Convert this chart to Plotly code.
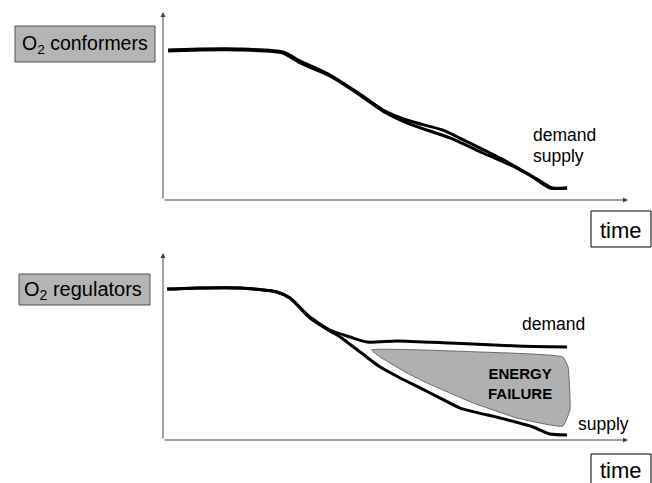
import plotly.graph_objects as go

W, H = 652, 483

# ---- data (time in arbitrary units 0-100, O2 level in arbitrary units 0-100)
conf_demand_time = [1.1, 8.0, 16.6, 25.8, 29.5, 35.9, 41.7, 47.3, 53.1, 60.2, 66.0, 72.5, 78.9, 83.2, 86.9]
conf_demand = [79.8, 80.3, 80.3, 78.7, 73.9, 66.5, 57.4, 47.9, 42.0, 37.2, 30.3, 22.3, 13.3, 6.4, 6.4]
conf_supply_time = [1.1, 8.0, 16.6, 25.8, 29.5, 35.9, 41.7, 47.3, 53.1, 61.7, 68.8, 76.1, 81.1, 83.7, 86.9]
conf_supply = [79.3, 79.8, 79.8, 78.2, 72.9, 66.0, 56.9, 47.3, 40.4, 33.0, 25.0, 17.0, 10.1, 6.4, 6.4]

reg_demand_time = [0.9, 7.7, 16.6, 24.5, 27.3, 31.6, 35.9, 40.2, 43.9, 50.3, 61.7, 76.1, 86.9]
reg_demand = [80.3, 80.9, 80.9, 78.7, 75.5, 65.4, 58.5, 54.8, 52.1, 52.7, 51.6, 50.0, 49.5]
reg_supply_time = [0.9, 8.0, 16.6, 24.5, 27.3, 31.6, 35.9, 38.1, 42.4, 46.7, 51.0, 55.3, 59.6, 63.9, 72.5, 79.6, 83.2, 86.9]
reg_supply = [80.3, 80.9, 80.9, 78.7, 75.5, 64.9, 58.0, 54.8, 46.8, 38.8, 33.0, 27.7, 22.3, 17.0, 11.7, 6.9, 3.2, 2.7]

failure_time = [44.9, 68.2, 86.0, 87.1, 87.5, 86.0, 83.2, 76.1, 66.7, 61.7, 56.8, 52.5, 48.8, 46.7, 44.9]
failure_level = [47.9, 46.8, 44.1, 38.8, 16.0, 7.4, 8.0, 11.7, 19.7, 25.0, 30.3, 35.6, 41.0, 44.1, 47.9]

FONT = "Arial, Liberation Sans, sans-serif"
LINE = dict(color="black", width=3, shape="spline", smoothing=0.6)

fig = go.Figure()
fig.add_trace(go.Scatter(x=conf_demand_time, y=conf_demand, mode="lines", line=LINE, xaxis="x", yaxis="y", hoverinfo="skip"))
fig.add_trace(go.Scatter(x=conf_supply_time, y=conf_supply, mode="lines", line=LINE, xaxis="x", yaxis="y", hoverinfo="skip"))
fig.add_trace(go.Scatter(x=failure_time, y=failure_level, mode="lines", fill="toself",
                         fillcolor="#b0b0b0", line=dict(color="#6a6a6a", width=1, shape="spline", smoothing=0.4),
                         xaxis="x2", yaxis="y2", hoverinfo="skip"))
fig.add_trace(go.Scatter(x=reg_demand_time, y=reg_demand, mode="lines", line=LINE, xaxis="x2", yaxis="y2", hoverinfo="skip"))
fig.add_trace(go.Scatter(x=reg_supply_time, y=reg_supply, mode="lines", line=LINE, xaxis="x2", yaxis="y2", hoverinfo="skip"))

xdom = [163 / W, 628 / W]
ax_common = dict(range=[0, 100], showgrid=False, zeroline=False, showticklabels=False, ticks="", showline=False, fixedrange=True)
fig.update_layout(
    width=W, height=H, margin=dict(l=0, r=0, t=0, b=0),
    paper_bgcolor="white", plot_bgcolor="rgba(0,0,0,0)", showlegend=False,
    xaxis=dict(domain=xdom, **ax_common),
    yaxis=dict(domain=[1 - 200 / H, 1 - 12 / H], **ax_common),
    xaxis2=dict(domain=xdom, anchor="y2", **ax_common),
    yaxis2=dict(domain=[1 - 440 / H, 1 - 252 / H], anchor="x2", **ax_common),
    font=dict(family=FONT, color="black"),
)

def px(x):
    return x / W

def py(y):
    return 1 - y / H

anns = []
shapes = []
# axes arrows
for y0, ytop in [(200, 12), (440, 253)]:
    anns.append(dict(xref="paper", yref="paper", x=px(163), y=py(ytop), ax=0, ay=(y0 - ytop), axref="pixel", ayref="pixel",
                     showarrow=True, arrowhead=2, arrowsize=1, arrowwidth=1, arrowcolor="#444", text=""))
    anns.append(dict(xref="paper", yref="paper", x=px(628), y=py(y0), ax=-(628 - 163), ay=0,
                     showarrow=True, arrowhead=2, arrowsize=1, arrowwidth=1, arrowcolor="#444", text=""))

# label boxes
shapes.append(dict(type="rect", xref="paper", yref="paper", x0=px(15), x1=px(155), y0=py(62), y1=py(26),
                   fillcolor="#b4b4b4", line=dict(color="#555", width=1)))
anns.append(dict(xref="paper", yref="paper", x=px(85), y=py(44), text="O<sub>2</sub> conformers", showarrow=False,
                 font=dict(size=19.5, family=FONT), xanchor="center", yanchor="middle"))
shapes.append(dict(type="rect", xref="paper", yref="paper", x0=px(19), x1=px(150), y0=py(305), y1=py(274),
                   fillcolor="#b4b4b4", line=dict(color="#555", width=1)))
anns.append(dict(xref="paper", yref="paper", x=px(83), y=py(290), text="O<sub>2</sub> regulators", showarrow=False,
                 font=dict(size=20, family=FONT), xanchor="center", yanchor="middle"))

# time boxes
for ytop, ybot in [(211, 247), (454, 492)]:
    shapes.append(dict(type="rect", xref="paper", yref="paper", x0=px(591), x1=px(651), y0=py(ybot), y1=py(ytop),
                       fillcolor="white", line=dict(color="black", width=1)))
anns.append(dict(xref="paper", yref="paper", x=px(621), y=py(230), text="time", showarrow=False,
                 font=dict(size=22, family=FONT), xanchor="center", yanchor="middle"))
anns.append(dict(xref="paper", yref="paper", x=px(621), y=py(470), text="time", showarrow=False,
                 font=dict(size=22, family=FONT), xanchor="center", yanchor="middle"))

# series labels
anns.append(dict(xref="paper", yref="paper", x=px(531), y=py(135), text="demand", showarrow=False,
                 font=dict(size=17.5, family=FONT), xanchor="left", yanchor="middle"))
anns.append(dict(xref="paper", yref="paper", x=px(531), y=py(156), text="supply", showarrow=False,
                 font=dict(size=17.5, family=FONT), xanchor="left", yanchor="middle"))
anns.append(dict(xref="paper", yref="paper", x=px(520), y=py(324), text="demand", showarrow=False,
                 font=dict(size=17.5, family=FONT), xanchor="left", yanchor="middle"))
anns.append(dict(xref="paper", yref="paper", x=px(576), y=py(424), text="supply", showarrow=False,
                 font=dict(size=17.5, family=FONT), xanchor="left", yanchor="middle"))
anns.append(dict(xref="paper", yref="paper", x=px(520), y=py(383), text="<b>ENERGY<br>FAILURE</b>", showarrow=False,
                 font=dict(size=15, family=FONT), xanchor="center", yanchor="middle", align="center"))

fig.update_layout(annotations=anns, shapes=shapes)
fig.write_html("out.html", config={"displayModeBar": False, "staticPlot": True},
               post_script="document.body.style.margin='0';document.body.style.overflow='hidden';")
